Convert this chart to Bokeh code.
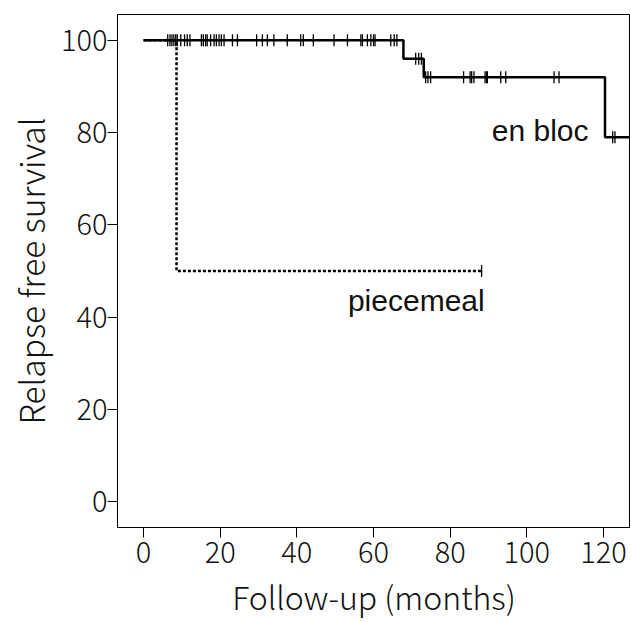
import math
from bokeh.plotting import figure
from bokeh.models import Range1d, FixedTicker, Label
from bokeh.embed import file_html
from bokeh.resources import INLINE

# Kaplan-Meier step data (months, % relapse free)
enbloc_times = [0, 67.8, 73.1, 120.4, 130]
enbloc_surv = [100, 96, 92, 79, 79]
enbloc_censor_100 = [6.3, 6.9, 7.4, 7.9, 8.4, 8.8, 9.7, 10.7, 11.4, 12.1,
                     15.1, 15.6, 16.2, 16.6, 17.5, 18.4, 19.0, 19.7, 20.3, 21.0,
                     23.2, 24.5, 29.5, 31.0, 32.3, 34.0, 37.5, 41.0, 41.7, 44.3,
                     49.7, 53.2, 56.7, 57.1, 58.4, 59.3, 60.0, 60.4, 64.5, 65.4, 66.1]
enbloc_censor_96 = [71.0, 71.8, 72.5]
enbloc_censor_92 = [73.6, 74.2, 74.9, 83.5, 85.2, 85.6, 86.2, 89.1, 89.5, 89.7,
                    93.2, 94.5, 107.1, 108.4]
enbloc_censor_79 = [122.4, 123.0]

piece_times = [0, 8.6, 88.2]
piece_surv = [100, 50, 50]
piece_censor = [88.2]

x_ticks = [0, 20, 40, 60, 80, 100, 120]
y_ticks = [0, 20, 40, 60, 80, 100]

FONT = "'Noto Sans CJK KR Light', 'Noto Sans CJK KR', sans-serif"

p = figure(width=630, height=622, output_backend="svg", toolbar_location=None,
           x_range=Range1d(-6.8, 127.05), y_range=Range1d(-5.6, 105.6),
           min_border_left=117, min_border_right=0, min_border_top=14,
           min_border_bottom=95)

p.outline_line_color = "black"
p.outline_line_width = 1
p.xgrid.visible = False
p.ygrid.visible = False
p.background_fill_color = "white"
p.border_fill_color = "white"

for ax in (p.xaxis[0], p.yaxis[0]):
    ax.major_tick_in = 0
    ax.major_tick_out = 10
    ax.minor_tick_out = 0
    ax.minor_tick_in = 0
    ax.axis_line_color = "black"
    ax.major_tick_line_color = "black"
    ax.major_label_text_font = FONT
    ax.major_label_text_font_size = "29px"
    ax.major_label_text_color = "#111111"
    ax.axis_label_text_font = FONT
    ax.axis_label_text_font_style = "normal"
    ax.axis_label_text_color = "#111111"

p.xaxis.axis_label_text_font_size = "32px"
p.yaxis.axis_label_text_font_size = "33.5px"
p.xaxis.ticker = FixedTicker(ticks=x_ticks)
p.yaxis.ticker = FixedTicker(ticks=y_ticks)
p.xaxis.axis_label = "Follow-up (months)"
p.yaxis.axis_label = "Relapse free survival"
p.xaxis.major_label_standoff = 4
p.xaxis.axis_label_standoff = 7
p.yaxis.major_label_standoff = 0
p.yaxis.axis_label_standoff = 3

# curves
p.step(enbloc_times, enbloc_surv, mode="after", line_color="black", line_width=2.5)
p.step(piece_times, piece_surv, mode="after", line_color="black", line_width=2.5,
       line_dash="3 2")

def censor(xs, level):
    p.scatter(xs, [level] * len(xs), marker="dash", size=12, angle=math.pi / 2,
              line_color="black", line_width=1.3)

censor(enbloc_censor_100, 100)
censor(enbloc_censor_96, 96)
censor(enbloc_censor_92, 92)
censor(enbloc_censor_79, 79)
censor(piece_censor, 50)

p.add_layout(Label(x=116.1, y=80.5, text="en bloc", text_font="Liberation Sans",
                   text_font_size="30px", text_align="right", text_baseline="middle",
                   text_color="#111111"))
p.add_layout(Label(x=89.0, y=43.6, text="piecemeal", text_font="Liberation Sans",
                   text_font_size="30px", text_align="right", text_baseline="middle",
                   text_color="#111111"))

open("out.html", "w").write(file_html(p, INLINE))
